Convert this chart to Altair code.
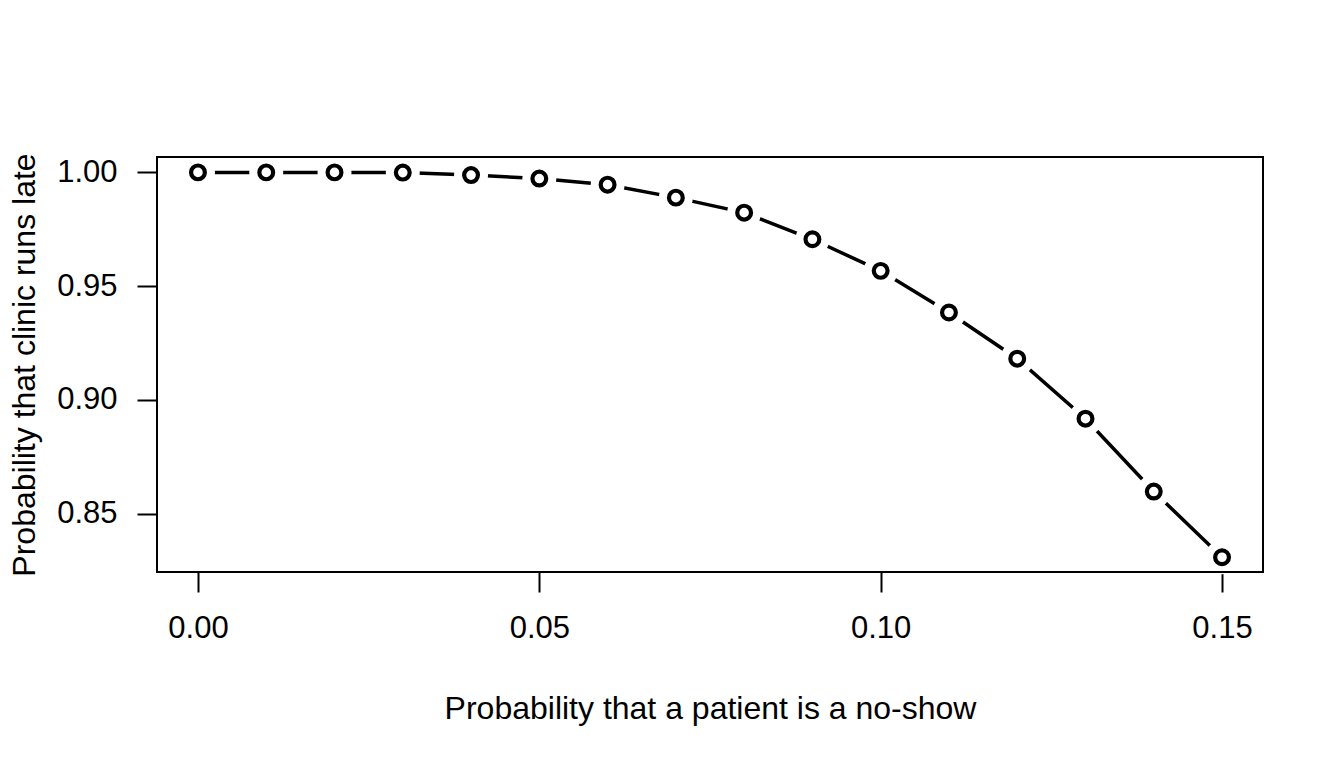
import altair as alt
import pandas as pd

# No-show probability (x) and probability that the clinic runs late (y)
no_show = [0.00, 0.01, 0.02, 0.03, 0.04, 0.05, 0.06, 0.07,
           0.08, 0.09, 0.10, 0.11, 0.12, 0.13, 0.14, 0.15]
runs_late = [1.0000, 1.0000, 1.0000, 0.9999, 0.9988, 0.9973, 0.9946, 0.9889,
             0.9823, 0.9706, 0.9567, 0.9384, 0.9181, 0.8917, 0.8597, 0.8308]

x_ticks = [0.00, 0.05, 0.10, 0.15]
y_ticks = [0.85, 0.90, 0.95, 1.00]

df = pd.DataFrame({"p": no_show, "late": runs_late})

W, H = 1106, 415
FONT = "Liberation Sans"

x_scale = alt.Scale(domain=[-0.006, 0.156], nice=False, zero=False)
y_scale = alt.Scale(domain=[0.82432, 1.00676], nice=False, zero=False)

x_axis = alt.Axis(
    values=x_ticks, format=".2f", domain=False, grid=False,
    tickSize=20, tickWidth=2, tickColor="black",
    labelFont=FONT, labelFontSize=31, labelColor="black",
    labelPadding=21, labelBaseline="top", labelFlush=False,
    title="Probability that a patient is a no-show",
    titleFont=FONT, titleFontSize=32, titleFontWeight="normal", titleColor="black",
    titleX=W / 2, titleY=146, titleAlign="center", titleBaseline="alphabetic",
)
y_axis = alt.Axis(
    values=y_ticks, format=".2f", domain=False, grid=False,
    tickSize=20, tickWidth=2, tickColor="black",
    labelFont=FONT, labelFontSize=31, labelColor="black",
    labelPadding=20, labelAlign="right", labelBaseline="middle", labelFlush=False,
    title="Probability that clinic runs late",
    titleFont=FONT, titleFontSize=32, titleFontWeight="normal", titleColor="black",
    titleX=-123, titleY=H / 2, titleAngle=270, titleAlign="center",
    titleBaseline="alphabetic",
)

base = alt.Chart(df).encode(
    x=alt.X("p:Q", scale=x_scale, axis=x_axis),
    y=alt.Y("late:Q", scale=y_scale, axis=y_axis),
)

# connecting line, broken around each point by a white disc (R's type = "b")
line = base.mark_line(color="black", strokeWidth=3.5)
gaps = base.mark_point(shape="circle", filled=True, color="white",
                       size=1156, opacity=1, strokeWidth=0)
points = base.mark_point(shape="circle", filled=False, color="black",
                         fill="white", fillOpacity=1, size=190,
                         strokeWidth=4.2, opacity=1)

# box around the plotting region
frame = alt.Chart(df).mark_rect(filled=False, stroke="black", strokeWidth=2).encode(
    x=alt.value(0), x2=alt.value(W), y=alt.value(0), y2=alt.value(H)
)

chart = alt.layer(line, gaps, points, frame).properties(
    width=W, height=H,
    autosize=alt.AutoSizeParams(type="none"),
    padding={"left": 157, "top": 157, "right": 81, "bottom": 196},
    background="white",
).configure_view(stroke=None)

chart.save("out.html", embed_options={"renderer": "svg", "actions": False})
